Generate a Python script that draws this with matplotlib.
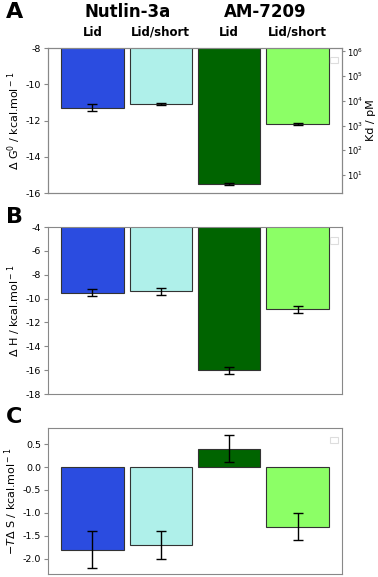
import numpy as np
import matplotlib
matplotlib.use("Agg")
import matplotlib.pyplot as plt
from matplotlib.patches import Rectangle

ligands = ["Nutlin-3a", "AM-7209"]
constructs = ["Lid", "Lid/short", "Lid", "Lid/short"]
colors = ["#2b4ce0", "#aff0ea", "#006400", "#8cff66"]

dG = [-11.3, -11.1, -15.5, -12.2]
dG_err = [0.2, 0.05, 0.07, 0.06]
dH = [-9.5, -9.4, -16.0, -10.9]
dH_err = [0.3, 0.3, 0.3, 0.3]
TdS = [-1.8, -1.7, 0.4, -1.3]
TdS_err = [0.4, 0.3, 0.3, 0.3]

RT = 1.987e-3 * 298.15

fig = plt.figure(figsize=(3.78, 5.77), dpi=100)
W, H = 378, 577

def mk_ax(top, bottom, left=48, right=342):
    return fig.add_axes([left / W, 1 - bottom / H, (right - left) / W, (bottom - top) / H])

axA = mk_ax(48, 193)
axB = mk_ax(227, 394)
axC = mk_ax(428, 574)

x = np.arange(4)

def draw(ax, vals, errs, ylim, yticks, ylabel):
    ax.bar(x, vals, width=0.91, color=colors, edgecolor="#333333", linewidth=0.8,
           yerr=errs, capsize=3.5, error_kw=dict(ecolor="black", elinewidth=1, capthick=1))
    ax.set_xlim(-0.65, 3.65)
    ax.set_ylim(*ylim)
    ax.set_yticks(yticks)
    ax.set_xticks([])
    ax.tick_params(axis="y", labelsize=6.8, length=3, pad=2, color="#888888")
    for s in ax.spines.values():
        s.set_color("#888888")
    ax.set_ylabel(ylabel, fontsize=8, labelpad=2)
    ax.add_patch(Rectangle((0.96, 0.9), 0.025, 0.04, transform=ax.transAxes,
                           fill=False, edgecolor="#dddddd", linewidth=0.8))

draw(axA, dG, dG_err, (-16, -8), np.arange(-16, -7, 2), r"$\Delta$ G$^0$ / kcal.mol$^-$$^1$")
draw(axB, dH, dH_err, (-18, -4), np.arange(-18, -3, 2), r"$\Delta$ H / kcal.mol$^-$$^1$")
draw(axC, TdS, TdS_err, (-2.33, 0.85), [-2.0, -1.5, -1.0, -0.5, 0.0, 0.5], r"$-T\Delta$ S / kcal.mol$^-$$^1$")
axC.yaxis.set_major_formatter(matplotlib.ticker.FormatStrFormatter("%.1f"))
axA.yaxis.set_major_formatter(matplotlib.ticker.FormatStrFormatter("%d"))
axB.yaxis.set_major_formatter(matplotlib.ticker.FormatStrFormatter("%d"))

# Right Kd axis for panel A
axR = axA.twinx()
axR.set_yscale("log")
axR.set_ylim(np.exp(-16 / RT) * 1e12, np.exp(-8 / RT) * 1e12)
axR.set_yticks([1e1, 1e2, 1e3, 1e4, 1e5, 1e6])
axR.yaxis.set_minor_locator(matplotlib.ticker.NullLocator())
axR.tick_params(axis="y", labelsize=6, length=2.5, pad=1, color="#888888")
for s in axR.spines.values():
    s.set_color("#888888")
fig.text(371 / W, 1 - 120.5 / H, "Kd / pM", fontsize=8, rotation=90, ha="center", va="center")

# Panel letters
for lab, y in [("A", 2), ("B", 207), ("C", 407)]:
    fig.text(6 / W, 1 - y / H, lab, fontsize=16, fontweight="bold", va="top", ha="left")

# Header labels
fig.text(128 / W, 1 - 12 / H, ligands[0], fontsize=12, fontweight="bold", ha="center", va="center")
fig.text(265 / W, 1 - 12 / H, ligands[1], fontsize=12, fontweight="bold", ha="center", va="center")
for i, c in enumerate(constructs):
    xd = axA.transData.transform((x[i], 0))[0]
    xf = fig.transFigure.inverted().transform((xd, 0))[0]
    fig.text(xf, 1 - 32 / H, c, fontsize=8.5, fontweight="bold", ha="center", va="center")

fig.savefig("out.png", dpi=100)
